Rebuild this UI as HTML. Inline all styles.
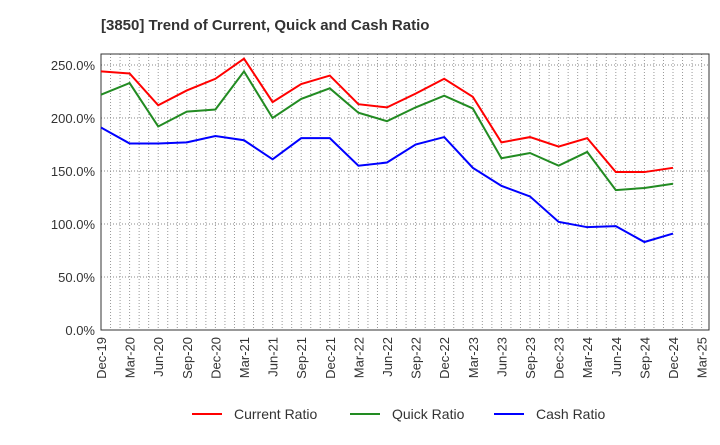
<!DOCTYPE html>
<html><head><meta charset="utf-8"><style>
body{margin:0;background:#fff;font-family:"Liberation Sans",sans-serif}
svg text{font-family:"Liberation Sans",sans-serif}
</style></head><body>
<svg id="c" width="720" height="440" xmlns="http://www.w3.org/2000/svg">
<text x="101" y="30" font-size="15" font-weight="bold" fill="#333">[3850]  Trend of Current, Quick and Cash Ratio</text>
<g id="grid"></g><g id="axes"></g><g id="series"></g>
<g>
<line x1="192" y1="414" x2="222" y2="414" stroke="#f00" stroke-width="2"/><text x="234" y="419" font-size="14" fill="#333">Current Ratio</text>
<line x1="350" y1="414" x2="380" y2="414" stroke="#228b22" stroke-width="2"/><text x="392" y="419" font-size="14" fill="#333">Quick Ratio</text>
<line x1="494" y1="414" x2="524" y2="414" stroke="#00f" stroke-width="2"/><text x="536" y="419" font-size="14" fill="#333">Cash Ratio</text>
</g>
</svg>
<script>
const categories=["Dec-19","Mar-20","Jun-20","Sep-20","Dec-20","Mar-21","Jun-21","Sep-21","Dec-21","Mar-22","Jun-22","Sep-22","Dec-22","Mar-23","Jun-23","Sep-23","Dec-23","Mar-24","Jun-24","Sep-24","Dec-24","Mar-25"];
const currentRatio=[244,242,212,226,237,256,215,232,240,213,210,223,237,220,177,182,173,181,149,149,153];
const quickRatio=[222,233,192,206,208,244,200,218,228,205,197,210,221,209,162,167,155,168,132,134,138];
const cashRatio=[191,176,176,177,183,179,161,181,181,155,158,175,182,153,136,126,102,97,98,83,91];
const yTicks=[0,50,100,150,200,250];
const L=101,R=709,T=54,B=330,step=28.6;
const x=i=>L+i*step, y=v=>B-v*1.06;
const NS="http://www.w3.org/2000/svg";
function mk(tag,attrs,parent,txt){const e=document.createElementNS(NS,tag);for(const k in attrs)e.setAttribute(k,attrs[k]);if(txt!==undefined)e.textContent=txt;document.getElementById(parent).appendChild(e);return e;}
for(let m=1;m<(R-L)/(step/3);m++){const gx=L+m*step/3;const e=mk('line',{x1:gx,x2:gx,y1:T,y2:B,stroke:'#999','stroke-dasharray':'1,2','stroke-width':1},'grid');

}
yTicks.forEach(v=>{const e=mk('line',{x1:L,x2:R,y1:y(v),y2:y(v),stroke:'#888','stroke-dasharray':'1,2','stroke-width':1},'grid');


const t=mk('text',{x:L-6,y:y(v)+5,'text-anchor':'end','font-size':13,fill:'#333'},'axes',v.toFixed(1)+'%');

});
const fr=mk('rect',{x:L,y:T,width:R-L,height:B-T,fill:'none',stroke:'#333','stroke-width':1},'axes');


categories.forEach((c,i)=>{const px=x(i);const t=mk('text',{x:0,y:0,'text-anchor':'end','font-size':13,fill:'#333',transform:`translate(${px+5},${B+7}) rotate(-90)`},'axes',c);

});
[[currentRatio,'#f00','current-ratio-line'],[quickRatio,'#228b22','quick-ratio-line'],[cashRatio,'#00f','cash-ratio-line']].forEach(([d,col,n])=>{
const p=mk('polyline',{points:d.map((v,i)=>x(i)+','+y(v)).join(' '),fill:'none',stroke:col,'stroke-width':2},'series');

});
</script>
</body></html>
